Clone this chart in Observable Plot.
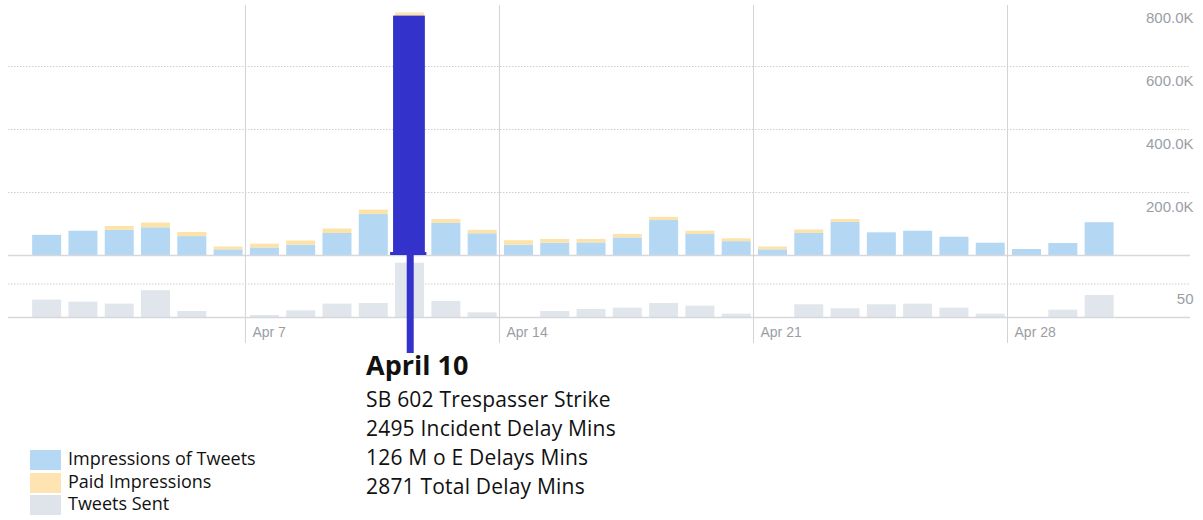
<!DOCTYPE html>
<html>
<head>
<meta charset="utf-8">
<script src="https://cdn.jsdelivr.net/npm/d3@7"></script>
<script src="https://cdn.jsdelivr.net/npm/@observablehq/plot@0.6"></script>
<style>
  body { margin: 0; background: #fff; }
  #wrap { position: relative; width: 1203px; height: 520px; overflow: hidden; background: #fff; }
  #top, #bottom { position: absolute; left: 0; }
  #top { top: 0; }
  #bottom { top: 255px; }
  .note { position: absolute; left: 366px; font-family: "Open Sans", sans-serif; color: #111; white-space: nowrap; }
  #noteHead { top: 350px; font-size: 27px; font-weight: 700; line-height: 30px; }
  #noteBody { top: 385px; font-size: 21px; line-height: 29px; letter-spacing: 0.2px; }
  .lg { position: absolute; left: 30px; height: 22.5px; font-family: "Open Sans", sans-serif; font-size: 18px; line-height: 22.5px; color: #111; white-space: nowrap; }
  .lg .sw { position: absolute; left: 0; top: 3px; width: 31px; height: 20px; }
  .lg .tx { position: absolute; left: 38px; top: 0; }
</style>
</head>
<body>
<div id="wrap">
  <div id="top"></div>
  <div id="bottom"></div>
  <div id="noteHead" class="note"></div>
  <div id="noteBody" class="note"></div>
  <div id="legend"></div>
</div>
<script>
// ---- data ----
const dates = ["2019-04-01","2019-04-02","2019-04-03","2019-04-04","2019-04-05","2019-04-06","2019-04-07",
  "2019-04-08","2019-04-09","2019-04-10","2019-04-11","2019-04-12","2019-04-13","2019-04-14",
  "2019-04-15","2019-04-16","2019-04-17","2019-04-18","2019-04-19","2019-04-20","2019-04-21",
  "2019-04-22","2019-04-23","2019-04-24","2019-04-25","2019-04-26","2019-04-27","2019-04-28",
  "2019-04-29","2019-04-30"];
// organic impressions (thousands)
const impressions = [64, 77, 80, 88, 60, 18, 24, 33, 70, 130, 760, 102, 69, 33, 39,
  40, 56, 111, 67, 44, 18, 70, 105, 72, 77, 58, 39, 19, 38, 104];
// paid impressions (thousands)
const paid = [0, 0, 12, 15, 13, 9, 12, 13, 14, 14, 10, 12, 11, 14, 12,
  11, 11, 10, 10, 9, 9, 11, 9, 0, 0, 0, 0, 0, 0, 0];
// tweets sent
const tweets = [26, 23, 20, 40, 9, 0, 3, 10, 20, 21, 81, 24, 7, 0, 9,
  12, 14, 21, 17, 5, 0, 19, 13, 19, 20, 14, 5, 0, 11, 33];
const highlightDate = "2019-04-11";
const seriesNames = ["Impressions of Tweets", "Paid Impressions", "Tweets Sent"];
const xTickDates = ["2019-04-07", "2019-04-14", "2019-04-21", "2019-04-28"];
const yTicksTop = [200000, 400000, 600000, 800000];
const yGridTop = [200000, 400000, 600000];
const yTicksBottom = [50];
const noteTitle = "April 10";
const noteLines = ["SB 602 Trespasser Strike", "2495 Incident Delay Mins", "126 M o E Delays Mins", "2871 Total Delay Mins"];

// ---- styles ----
const cBlue = "#b4d7f3", cYellow = "#fde3a8", cGray = "#e1e6ec", cHL = "#3333cc";
const cGrid = "#cfcfcf", cVert = "#d3d3d3", cBase = "#d5d8dc", cLabel = "#9a9ea4";

const parse = d3.utcParse("%Y-%m-%d");
const rows = dates.map((d, i) => ({date: parse(d), imp: impressions[i] * 1000, paid: paid[i] * 1000, tweets: tweets[i]}));
const long = rows.flatMap(r => [
  {date: r.date, series: seriesNames[0], value: r.imp},
  {date: r.date, series: seriesNames[1], value: r.paid}
]);
const hl = rows.filter(r => +r.date === +parse(highlightDate));
const xTicks = xTickDates.map(parse);
const xDomain = [new Date(Date.UTC(2019, 2, 31, 11, 20)), new Date(Date.UTC(2019, 4, 3, 1, 0))];
const fmtK = d => (d / 1000).toFixed(1) + "K";
const font = "'Liberation Sans', Arial, sans-serif";

const topPlot = Plot.plot({
  width: 1203, height: 258,
  marginTop: 3, marginBottom: 3, marginLeft: 8, marginRight: 13,
  style: {background: "transparent", fontFamily: font, overflow: "visible"},
  x: {type: "utc", domain: xDomain, axis: null},
  y: {domain: [0, 800000], axis: null},
  color: {domain: seriesNames.slice(0, 2), range: [cBlue, cYellow]},
  marks: [
    Plot.ruleY(yGridTop, {stroke: cGrid, strokeDasharray: "1.5,1.5"}),
    Plot.ruleX(xTicks, {stroke: cVert, insetTop: 2}),
    Plot.rectY(long, {x: "date", interval: "day", y: "value", fill: "series", insetLeft: 5, insetRight: 2.3}),
    Plot.rectY(hl, {x: "date", interval: "day", y: "imp", fill: cHL, insetLeft: 3, insetRight: 1.5}),
    Plot.ruleY([0], {stroke: cBase, strokeWidth: 1.5}),
    Plot.ruleY(hl, {y: d => 0, x1: "date", x2: d => d3.utcDay.offset(d.date, 1), stroke: cHL, strokeWidth: 3, dy: -2}),
    Plot.text(yTicksTop, {y: d => d, text: fmtK, frameAnchor: "right", textAnchor: "end", dy: 15, dx: 3, fill: cLabel, fontSize: 15})
  ]
});
document.getElementById("top").appendChild(topPlot);

const bottomPlot = Plot.plot({
  width: 1203, height: 98,
  marginTop: 0, marginBottom: 0, marginLeft: 8, marginRight: 13,
  style: {background: "transparent", fontFamily: font, overflow: "visible"},
  x: {type: "utc", domain: xDomain, axis: null},
  y: {domain: [0, 50], range: [62, 28.5], axis: null},
  marks: [
    Plot.ruleY(yTicksBottom, {stroke: cGrid, strokeDasharray: "1.5,1.5"}),
    Plot.ruleX(xTicks, {stroke: cVert, insetBottom: 10}),
    Plot.rectY(rows, {x: "date", interval: "day", y: "tweets", fill: cGray, insetLeft: 5, insetRight: 2.3}),
    Plot.ruleY([0], {stroke: cBase, strokeWidth: 1.5}),
    Plot.ruleX(hl, {x: d => d3.utcHour.offset(d.date, 12), stroke: cHL, strokeWidth: 7, dx: 1.5}),
    Plot.text(xTicks, {x: d => d, text: d3.utcFormat("%b %-d"), frameAnchor: "bottom", dy: -21, dx: 7, textAnchor: "start", lineAnchor: "middle", fill: cLabel, fontSize: 14}),
    Plot.text(yTicksBottom, {y: d => d, text: d => String(d), frameAnchor: "right", textAnchor: "end", dy: 15, dx: 3, fill: cLabel, fontSize: 15})
  ]
});
document.getElementById("bottom").appendChild(bottomPlot);

// annotation
document.getElementById("noteHead").textContent = noteTitle;
document.getElementById("noteBody").innerHTML = noteLines.map(s => `<div>${s}</div>`).join("");

// legend
const legendColors = ["#b5d8f4", "#fde4b2", "#dfe4ea"];
const legendTops = [447, 469.5, 492];
const lg = document.getElementById("legend");
seriesNames.forEach((name, i) => {
  const row = document.createElement("div");
  row.className = "lg";
  row.style.top = legendTops[i] + "px";
  row.innerHTML = `<div class="sw" style="background:${legendColors[i]}"></div><div class="tx">${name}</div>`;
  lg.appendChild(row);
});
</script>
</body>
</html>
